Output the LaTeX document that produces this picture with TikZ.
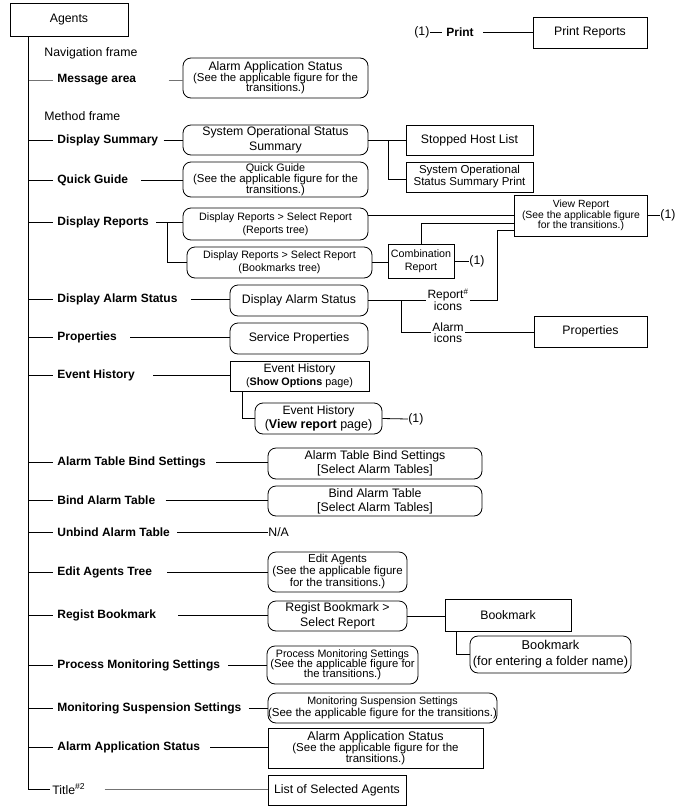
\documentclass[tikz,border=0pt]{standalone}
\usepackage{fontspec}
\setmainfont{Liberation Sans}
\lineskiplimit=-40pt
\newcommand{\FS}[2]{\fontsize{#1}{#2}\selectfont}
\tikzset{
  rbox/.style={draw, rounded corners=8pt, align=center, inner sep=0pt},
  sbox/.style={draw, align=center, inner sep=0pt},
  lbl/.style={anchor=west, inner sep=0pt, font=\bfseries\FS{12}{14}},
  ptxt/.style={anchor=west, inner sep=0pt, font=\FS{12.3}{14}},
  gline/.style={draw=black!55},
}
\begin{document}
\begin{tikzpicture}[x=1pt, y=-1pt, line width=0.8pt]
\useasboundingbox (0,0) rectangle (680,809);

% root
\node[sbox, minimum width=118, minimum height=33, font=\FS{12.3}{14}] (agents) at (69,19.5) {Agents};
\coordinate (spT) at ([xshift=19pt]agents.south west);

% frame captions
\node[ptxt] (navf) at (44,53) {Navigation frame};
\node[ptxt] (methf) at (44,116) {Method frame};

% labels on the spine
\node[lbl] (lmsg) at (57,80) {Message area};
\node[lbl] (lds)  at (57,140) {Display Summary};
\node[lbl] (lqg)  at (57,180) {Quick Guide};
\node[lbl] (ldr)  at (57,222) {Display Reports};
\node[lbl] (lda)  at (57,299) {Display Alarm Status};
\node[lbl] (lpr)  at (57,337) {Properties};
\node[lbl] (leh)  at (57,375) {Event History};
\node[lbl] (latb) at (57,462) {Alarm Table Bind Settings};
\node[lbl] (lbat) at (57,500) {Bind Alarm Table};
\node[lbl] (luat) at (57,532) {Unbind Alarm Table};
\node[lbl] (leat) at (57,572) {Edit Agents Tree};
\node[lbl] (lrb)  at (57,615) {Regist Bookmark};
\node[lbl] (lpms) at (57,665) {Process Monitoring Settings};
\node[lbl] (lmss) at (57,708) {Monitoring Suspension Settings};
\node[lbl] (laas) at (57,747) {Alarm Application Status};
\node[ptxt] (ttl) at (52,789) {Title\textsuperscript{\#2}};

% boxes
\node[rbox, minimum width=185, minimum height=40, font=\FS{12.3}{10.5}] (msg) at (275.5,78)
  {Alarm Application Status\\{\FS{11.4}{10.5}(See the applicable figure for the}\\{\FS{11.4}{10.5}transitions.)}};
\node[rbox, minimum width=185, minimum height=30, font=\FS{12.3}{15}] (sysop) at (275.5,140)
  {System Operational Status\\Summary};
\node[sbox, minimum width=127, minimum height=30, font=\FS{12.3}{14}] (stopped) at (469.5,140) {Stopped Host List};
\node[sbox, minimum width=127, minimum height=30, font=\FS{11.5}{12}] (sysprint) at (469.5,177)
  {System Operational\\Status Summary Print};
\node[rbox, minimum width=185, minimum height=35, font=\FS{11.4}{10.8}] (quick) at (275.5,179.5)
  {{\FS{10.8}{10.8}Quick Guide}\\(See the applicable figure for the\\transitions.)};
\node[rbox, minimum width=185, minimum height=32, font=\FS{10.7}{12.6}] (drep1) at (275.5,224)
  {Display Reports > Select Report\\(Reports tree)};
\node[rbox, minimum width=185, minimum height=31, font=\FS{10.7}{12.6}] (drep2) at (279.5,262.5)
  {Display Reports > Select Report\\(Bookmarks tree)};
\node[sbox, minimum width=66, minimum height=34, font=\FS{10.7}{12.6}] (combo) at (421,261)
  {Combination\\Report};
\node[sbox, minimum width=133, minimum height=41, font=\FS{10.4}{10.5}] (view) at (581,215.5)
  {View Report\\(See the applicable figure\\for the transitions.)};
\node[rbox, minimum width=138, minimum height=31, font=\FS{12.3}{14}] (dalarm) at (299,300.5) {Display Alarm Status};
\node[align=center, inner sep=1pt, font=\FS{12}{12}] (ricons) at (448,300) {Report\textsuperscript{\#}\\icons};
\node[align=center, inner sep=1pt, font=\FS{12}{11.5}] (aicons) at (448,332.5) {Alarm\\icons};
\node[sbox, minimum width=113, minimum height=31, font=\FS{12.3}{14}] (props) at (590.5,331.5) {Properties};
\node[rbox, minimum width=138, minimum height=31, font=\FS{12.3}{14}] (service) at (299,338.5) {Service Properties};
\node[sbox, minimum width=139, minimum height=30, font=\FS{12.1}{13}] (evh1) at (299.5,376)
  {Event History\\{\FS{10.8}{13}(\textbf{Show Options} page)}};
\node[rbox, minimum width=127, minimum height=31, font=\FS{12.1}{14}] (evh2) at (318.5,418.5)
  {Event History\\{\FS{12.5}{14}(\textbf{View report} page)}};
\node[rbox, minimum width=214, minimum height=31, font=\FS{12.3}{14}] (atb) at (375,463.5)
  {Alarm Table Bind Settings\\{[Select Alarm Tables]}};
\node[rbox, minimum width=214, minimum height=30, font=\FS{12.3}{14}] (bat) at (375,501)
  {Bind Alarm Table\\{[Select Alarm Tables]}};
\node[ptxt] (na) at (268,532) {N/A};
\node[rbox, minimum width=139, minimum height=40, font=\FS{11.5}{12}] (edit) at (337.5,572)
  {Edit Agents\\(See the applicable figure\\for the transitions.)};
\node[rbox, minimum width=139, minimum height=30, font=\FS{12.3}{15}] (regist) at (337.5,616)
  {Regist Bookmark >\\Select Report};
\node[sbox, minimum width=126, minimum height=32, font=\FS{12.3}{14}] (bkm) at (508,615) {Bookmark};
\node[rbox, minimum width=161, minimum height=37, font=\FS{12.8}{16}] (bkm2) at (550.5,654.5)
  {Bookmark\\(for entering a folder name)};
\node[rbox, minimum width=151, minimum height=38, font=\FS{11.3}{10.2}] (pms) at (342.5,665)
  {{\FS{10.7}{10.2}Process Monitoring Settings}\\(See the applicable figure for\\the transitions.)};
\node[rbox, minimum width=229, minimum height=30, font=\FS{11.5}{12}] (mss) at (382.5,708)
  {{\FS{10.7}{12}Monitoring Suspension Settings}\\(See the applicable figure for the transitions.)};
\node[sbox, minimum width=215, minimum height=40, font=\FS{11.5}{11.3}] (aas) at (375.5,748)
  {{\FS{12.5}{11.3}Alarm Application Status}\\(See the applicable figure for the\\transitions.)};
\node[sbox, minimum width=138, minimum height=30, font=\FS{12.3}{14}] (losa) at (337,790) {List of Selected Agents};

% print row
\node[ptxt] (one4) at (414,32.5) {(1)};
\node[lbl] (print) at (446,32.5) {Print};
\node[sbox, minimum width=114, minimum height=31, font=\FS{12.3}{14}] (printr) at (590,32.5) {Print Reports};

% (1) marks
\node[ptxt] (one1) at (660,215.5) {(1)};
\node[ptxt] (one2) at (469,261) {(1)};
\node[ptxt] (one3) at (408,419) {(1)};

% spine
\coordinate (spB) at (spT |- ttl.west);
\draw (spT) -- (spB) -- ([xshift=-2pt]ttl.west);
\foreach \n in {lds,lqg,ldr,lda,lpr,leh,latb,lbat,luat,leat,lrb,lpms,lmss,laas}
  \draw[shorten >=4pt] (\n.west -| spT) -- (\n.west);
\draw[gline, shorten >=4pt] (lmsg.west -| spT) -- (lmsg.west);

% label -> box connectors
\draw[gline, shorten <=32pt] (lmsg.east) -- (lmsg.east -| msg.west);
\draw[shorten <=5pt]  (lds.east) -- (lds.east -| sysop.west);
\draw[shorten <=13pt] (lqg.east) -- (lqg.east -| quick.west);
\coordinate (drb) at (167,222);
\draw[shorten <=7pt]  (ldr.east) -- (ldr.east -| drep1.west);
\draw (drb) |- (drep2.west);
\draw[shorten <=13pt] (lda.east) -- (lda.east -| dalarm.west);
\draw[shorten <=13pt] (lpr.east) -- (lpr.east -| service.west);
\draw[shorten <=18pt] (leh.east) -- (leh.east -| evh1.west);
\draw[shorten <=10pt] (latb.east) -- (latb.east -| atb.west);
\draw[shorten <=10pt] (lbat.east) -- (lbat.east -| bat.west);
\draw[shorten <=7pt]  (luat.east) -- (na.west);
\draw[shorten <=15pt] (leat.east) -- (leat.east -| edit.west);
\draw[shorten <=22pt] (lrb.east) -- (lrb.east -| regist.west);
\draw[shorten <=8pt]  (lpms.east) -- (lpms.east -| pms.west);
\draw[shorten <=7pt]  (lmss.east) -- (lmss.east -| mss.west);
\draw[shorten <=10pt] (laas.east) -- (laas.east -| aas.west);
\draw[gline, shorten <=19pt] (ttl.east) -- (ttl.east -| losa.west);

% summary branch
\coordinate (sob) at (388,140);
\draw (sysop.east) -- (stopped.west);
\draw (sob) |- ([yshift=-2pt]sysprint.west);

% reports branch
\draw (view.west) -- (view.west -| drep1.east);
\draw (drep2.east) -- (drep2.east -| combo.west);
\draw (combo.north) |- ([yshift=-7.5pt]view.west);
\draw (combo.east) -- (one2.west);
\draw (view.east) -- (one1.west);

% alarm status branch
\coordinate (dab) at (401,300);
\coordinate (rvk) at (497,230);
\draw (dalarm.east) -- (dalarm.east -| ricons.west);
\draw (dab) |- (aicons.west);
\draw (ricons.east) -| (rvk) -- (rvk -| view.west);
\draw (aicons.east) -- (aicons.east -| props.west);

% event history branch
\draw ([xshift=13pt]evh1.south west) |- (evh2.west);
\draw (evh2.east) -- (one3.west);

% bookmark branch
\draw (regist.east) -- (regist.east -| bkm.west);
\draw ([xshift=12pt]bkm.south west) |- (bkm2.west);

% print row
\draw[shorten >=4pt] (one4.east) -- (print.west);
\draw[shorten <=9pt] (print.east) -- (printr.west);
\end{tikzpicture}
\end{document}
